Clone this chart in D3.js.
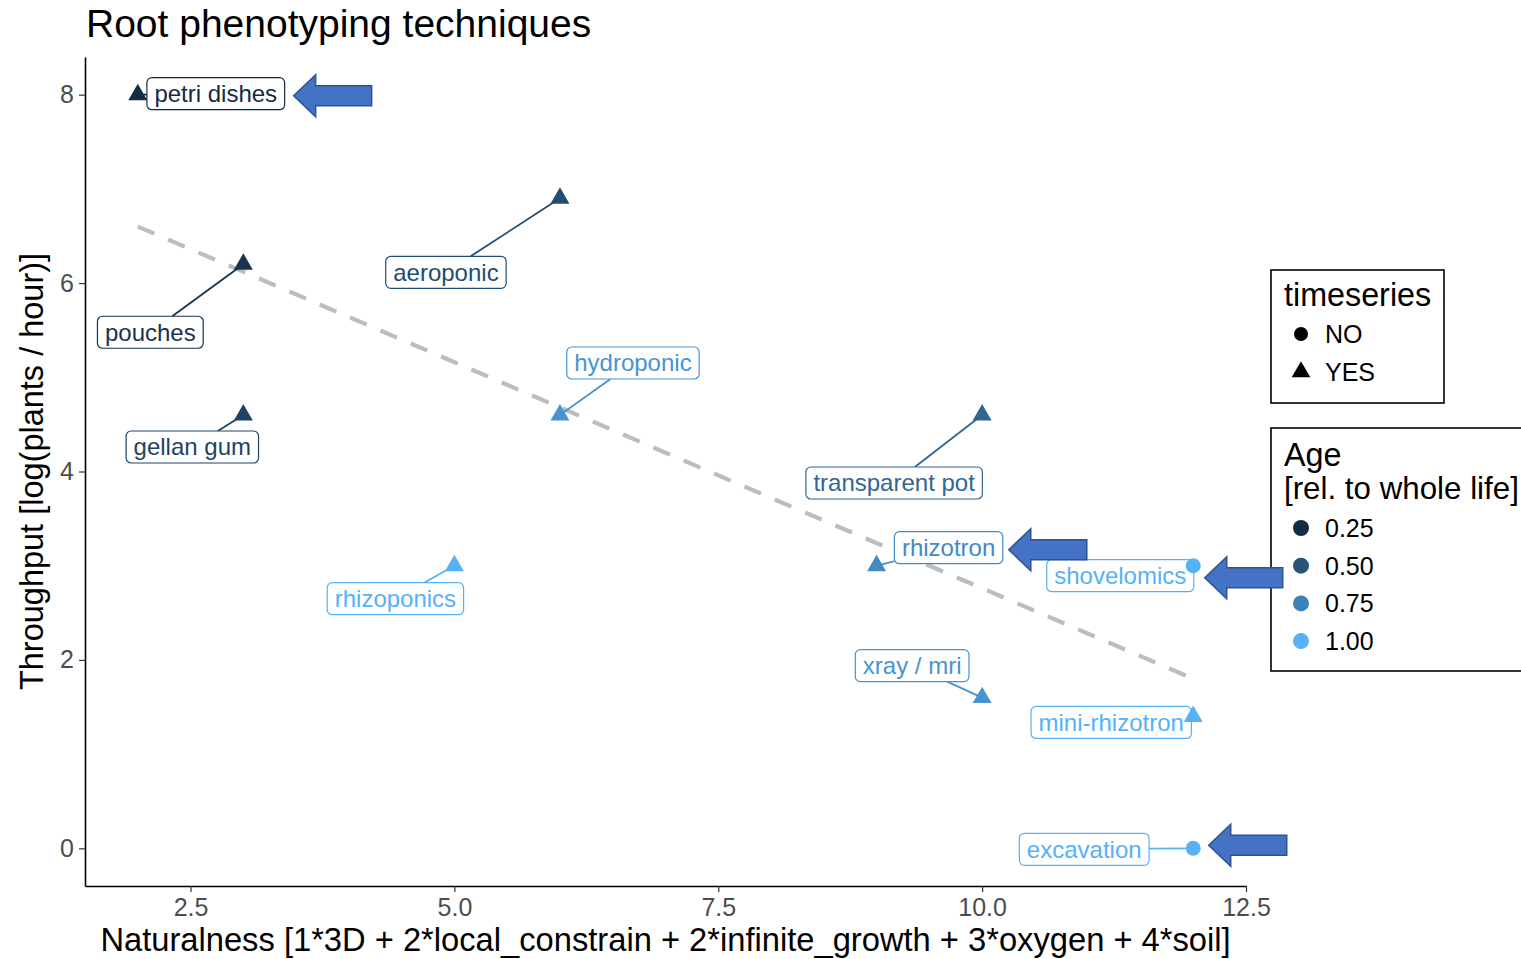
<!DOCTYPE html>
<html><head><meta charset="utf-8">
<script src="https://cdn.jsdelivr.net/npm/d3@7"></script>
<style>body{margin:0;background:#fff} svg{display:block} text{font-family:"Liberation Sans",Arial,Helvetica,sans-serif}</style>
</head><body><svg id="c" width="1521" height="959"></svg>
<script>
// ---- data ----
const techniques = ["petri dishes","pouches","gellan gum","aeroponic","hydroponic","rhizoponics","transparent pot","rhizotron","shovelomics","xray / mri","mini-rhizotron","excavation"];
const naturalness = [2,3,3,6,6,5,10,9,12,10,12,12];
const throughput = [8.0,6.2,4.6,6.9,4.6,3.0,4.6,3.0,3.0,1.6,1.4,0.0];
const age = [0.25,0.3,0.4,0.45,0.85,1.0,0.6,0.8,1.0,0.85,1.0,1.0];
const timeseries = ["YES","YES","YES","YES","YES","YES","YES","YES","NO","YES","YES","NO"];
const trendX = [2,12];
const trendY = [6.6,1.8];
const xTicks = [2.5,5.0,7.5,10.0,12.5];
const yTicks = [0,2,4,6,8];
const ageLegend = [0.25,0.50,0.75,1.00];
const tsLegend = ["NO","YES"];
const highlighted = ["petri dishes","rhizotron","shovelomics","excavation"];

// ---- layout (repelled label offsets, px from point) ----
const labelDx = [78,-93,-51,-114,73,-59,-88,72,-73,-70,-82,-109];
const labelDy = [-1,68,32,74,-52,33,68,-18,10,-32,6,1];
const arrowGap = [9,6,4,8];
const arrowDy = [2,2,2,-4];

const svg = d3.select("#c");
const L = 85, R = 1246, T = 57, B = 886;
const x = d3.scaleLinear().domain([1.5,12.5]).range([L,R]);
const y = d3.scaleLinear().domain([-0.4,8.4]).range([B,T]);
const color = d3.scaleLinear().domain([0.25,1]).range(["#132B43","#56B1F7"]).interpolate(d3.interpolateLab);
const triSize = 156, circR = 7.5;
const shape = d3.scaleOrdinal().domain(["NO","YES"]).range([d3.symbolCircle,d3.symbolTriangle]);

// title
svg.append("text").attr("x",86).attr("y",37).attr("font-size",39).attr("fill","#000").text("Root phenotyping techniques");

// axes
const xa = svg.append("g").attr("transform",`translate(0,${B})`)
  .call(d3.axisBottom(x).tickValues(xTicks).tickFormat(d3.format(".1f")).tickSize(6).tickSizeOuter(0).tickPadding(6));
const ya = svg.append("g").attr("transform",`translate(${L},0)`)
  .call(d3.axisLeft(y).tickValues(yTicks).tickFormat(d3.format("d")).tickSize(6).tickSizeOuter(0).tickPadding(5));
[xa,ya].forEach(g=>{
  g.select(".domain").attr("stroke","#000").attr("stroke-width",1.6);
  g.selectAll(".tick line").attr("stroke","#333").attr("stroke-width",1.2);
  g.selectAll(".tick text").attr("font-size",25).attr("fill","#4d4d4d").attr("font-family",null);
});
svg.append("text").attr("x",(L+R)/2).attr("y",951).attr("text-anchor","middle").attr("font-size",32.7).attr("fill","#000")
  .text("Naturalness [1*3D + 2*local_constrain + 2*infinite_growth + 3*oxygen + 4*soil]");
svg.append("text").attr("transform",`translate(43,${(T+B)/2}) rotate(-90)`).attr("text-anchor","middle").attr("font-size",32.5).attr("fill","#000")
  .text("Throughput [log(plants / hour)]");

// trend line
svg.append("line").attr("x1",x(trendX[0])).attr("y1",y(trendY[0])).attr("x2",x(trendX[1])).attr("y2",y(trendY[1]))
  .attr("stroke","#bdbdbd").attr("stroke-width",4.2).attr("stroke-dasharray","18,15");

// data rows
const rows = techniques.map((t,i)=>({name:t, px:x(naturalness[i]), py:y(throughput[i]), c:color(age[i]), ts:timeseries[i], dx:labelDx[i], dy:labelDy[i]}));

// labels
const labG = svg.append("g");
const segG = svg.insert("g", () => labG.node());
const pad = 7.5, bh = 32;
rows.forEach(r=>{
  const g = labG.append("g");
  const cx = r.px + r.dx, cy = r.py + r.dy;
  const tx = g.append("text").attr("x",cx).attr("y",cy+8.5).attr("text-anchor","middle").attr("font-size",24).attr("fill",r.c).text(r.name);
  const tw = tx.node().getComputedTextLength();
  const bw = tw + 2*pad;
  r.box = {x0:cx-bw/2, x1:cx+bw/2, y0:cy-bh/2, y1:cy+bh/2, cx, cy};
  g.insert("rect","text").attr("x",r.box.x0).attr("y",r.box.y0).attr("width",bw).attr("height",bh).attr("rx",5)
    .attr("fill","#fff").attr("stroke",r.c).attr("stroke-width",1.2);
  const b = r.box;
  if (r.px < b.x0 || r.px > b.x1 || r.py < b.y0 || r.py > b.y1) {
    const ddx = r.px - cx, ddy = r.py - cy;
    let tmin = 1;
    if (ddx !== 0) tmin = Math.min(tmin, Math.abs((bw/2)/ddx));
    if (ddy !== 0) tmin = Math.min(tmin, Math.abs((bh/2)/ddy));
    const sx = cx + ddx*tmin, sy = cy + ddy*tmin;
    if (Math.hypot(r.px-sx, r.py-sy) > 8)
      segG.append("line").attr("x1",sx).attr("y1",sy).attr("x2",r.px).attr("y2",r.py).attr("stroke",r.c).attr("stroke-width",1.8);
  }
});

// points
svg.append("g").selectAll("path").data(rows).join("path")
  .attr("transform",d=>`translate(${d.px},${d.py})`)
  .attr("d",d=>d3.symbol().type(shape(d.ts)).size(d.ts==="YES"?triSize:Math.PI*circR*circR)())
  .attr("fill",d=>d.c);

// legends
const lg = svg.append("g");
lg.append("rect").attr("x",1271).attr("y",270).attr("width",173).attr("height",133).attr("fill","#fff").attr("stroke","#000").attr("stroke-width",1.6);
lg.append("text").attr("x",1284).attr("y",306).attr("font-size",32.3).text("timeseries");
tsLegend.forEach((k,i)=>{
  const cy = 334 + i*38;
  lg.append("path").attr("transform",`translate(1301,${cy})`).attr("d",d3.symbol().type(shape(k)).size(k==="YES"?150:Math.PI*49)()).attr("fill","#000");
  lg.append("text").attr("x",1325).attr("y",cy+9).attr("font-size",25).text(k);
});
lg.append("rect").attr("x",1271).attr("y",428).attr("width",300).attr("height",243).attr("fill","#fff").attr("stroke","#000").attr("stroke-width",1.6);
lg.append("text").attr("x",1284).attr("y",466).attr("font-size",32.3).text("Age");
lg.append("text").attr("x",1284).attr("y",499).attr("font-size",31.3).text("[rel. to whole life]");
ageLegend.forEach((k,i)=>{
  const cy = 528 + i*37.7;
  lg.append("circle").attr("cx",1301).attr("cy",cy).attr("r",8).attr("fill",color(k));
  lg.append("text").attr("x",1325).attr("y",cy+9).attr("font-size",25).text(d3.format(".2f")(k));
});

// highlight arrows
const arrowShape = [[0,0],[22,-21],[22,-10],[78,-10],[78,10],[22,10],[22,21]];
highlighted.forEach((nm,j)=>{
  const r = rows.find(d=>d.name===nm);
  const right = Math.max(r.box.x1, r.px + (r.ts==="YES"?10:circR));
  const tx = right + arrowGap[j], ty = r.box.cy + arrowDy[j];
  svg.append("polygon").attr("points",arrowShape.map(p=>[tx+p[0],ty+p[1]].join(",")).join(" "))
    .attr("fill","#4472C4").attr("stroke","#2F528F").attr("stroke-width",1.5).attr("stroke-linejoin","miter");
});
</script></body></html>
